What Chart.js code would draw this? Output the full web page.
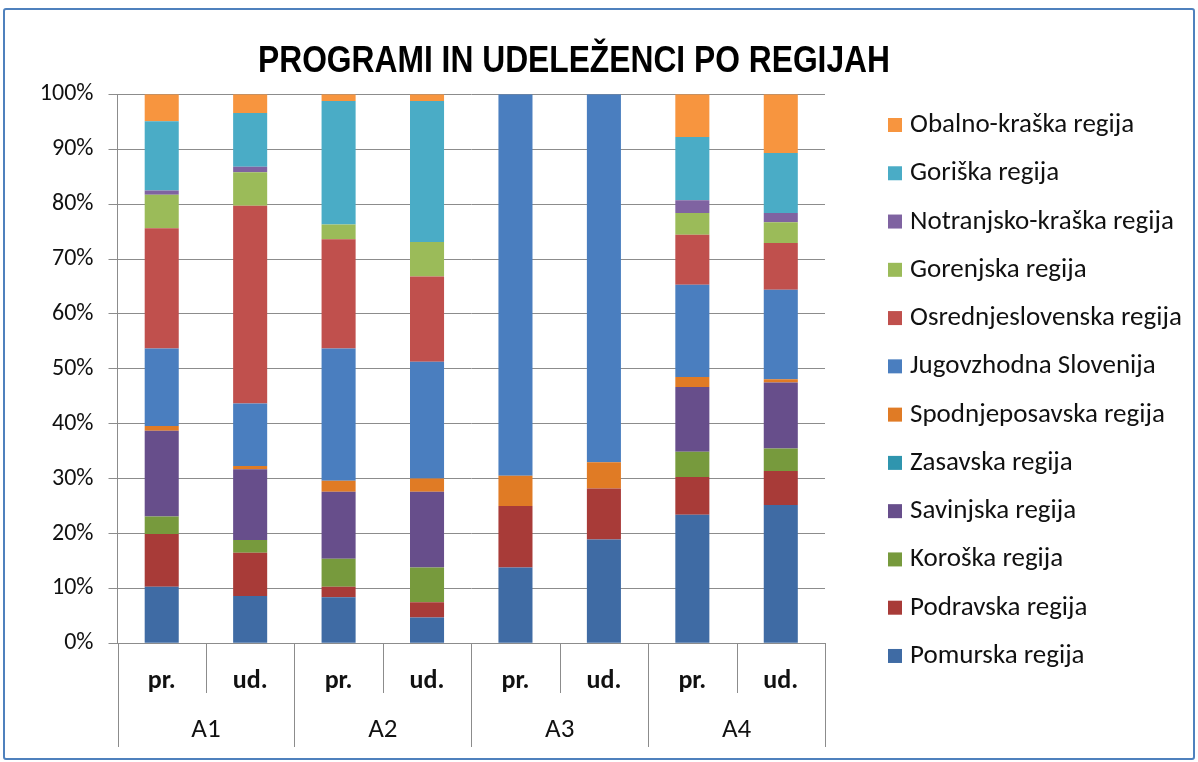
<!DOCTYPE html>
<html><head><meta charset="utf-8">
<script src="https://cdn.jsdelivr.net/npm/chart.js@4.4.1/dist/chart.umd.min.js"></script>
<style>
html,body{margin:0;padding:0;background:#fff;}
#wrap{position:relative;width:1198px;height:762px;overflow:hidden;}
#frame{position:absolute;left:3px;top:8px;width:1188px;height:748px;border:2px solid #4f81bd;border-radius:3px;pointer-events:none;}
#c{position:absolute;left:0;top:0;}
</style></head><body>
<div id="wrap"><canvas id="c" width="1198" height="762"></canvas><div id="frame"></div></div>
<script>
// ---- data ----
const categories = ['pr.', 'ud.', 'pr.', 'ud.', 'pr.', 'ud.', 'pr.', 'ud.'];
const groups = ['A1', 'A2', 'A3', 'A4'];
const yTicks = [0, 10, 20, 30, 40, 50, 60, 70, 80, 90, 100];
const regions = ['Pomurska regija', 'Podravska regija', 'Koroška regija', 'Savinjska regija', 'Zasavska regija',
  'Spodnjeposavska regija', 'Jugovzhodna Slovenija', 'Osrednjeslovenska regija', 'Gorenjska regija',
  'Notranjsko-kraška regija', 'Goriška regija', 'Obalno-kraška regija'];
const pomurska          = [10.3, 8.6, 8.4, 4.7, 13.8, 18.9, 23.4, 25.2];
const podravska         = [9.6, 7.9, 1.9, 2.8, 11.2, 9.3, 6.9, 6.2];
const koroska           = [3.2, 2.3, 5.1, 6.3, 0, 0, 4.6, 4.1];
const savinjska         = [15.6, 12.9, 12.2, 13.8, 0, 0, 11.8, 12.0];
const zasavska          = [0, 0, 0, 0, 0, 0, 0, 0];
const spodnjeposavska   = [0.9, 0.6, 2.0, 2.4, 5.5, 4.8, 1.8, 0.6];
const jugovzhodna       = [14.1, 11.4, 24.1, 21.3, 69.5, 67.0, 16.8, 16.3];
const osrednjeslovenska = [21.9, 36.0, 19.9, 15.5, 0, 0, 9.1, 8.5];
const gorenjska         = [6.1, 6.1, 2.7, 6.3, 0, 0, 4.0, 3.8];
const notranjsko        = [0.8, 1.0, 0, 0, 0, 0, 2.3, 1.7];
const goriska           = [12.6, 9.8, 22.5, 25.7, 0, 0, 11.5, 10.9];
const obalno            = [4.9, 3.4, 1.2, 1.2, 0, 0, 7.8, 10.7];
const seriesValues = [pomurska, podravska, koroska, savinjska, zasavska, spodnjeposavska,
  jugovzhodna, osrednjeslovenska, gorenjska, notranjsko, goriska, obalno];
const colors = ['#3f6ba4', '#a83b38', '#779a3d', '#674e8b', '#2f95ae', '#e07b25',
  '#4a7ebf', '#c0504d', '#9bbb59', '#7f63a1', '#4aacc6', '#f7953f'];
const title = 'PROGRAMI IN UDELEŽENCI PO REGIJAH';

const TXT = '#111';
const GRID = '#8c8c8c';
const LBL_FONT = 'Carlito';

const extras = {
  id: 'extras',
  afterDraw(chart) {
    const ctx = chart.ctx, xs = chart.scales.x, ys = chart.scales.y;
    ctx.save();
    // title (condensed bold)
    ctx.save();
    ctx.fillStyle = '#000';
    ctx.font = 'bold 37.5px "Liberation Sans", Arial, sans-serif';
    ctx.textAlign = 'center'; ctx.textBaseline = 'alphabetic';
    const tw = ctx.measureText(title).width;
    const sx = 632 / tw;
    ctx.translate(574, 72); ctx.scale(sx, 1);
    ctx.fillText(title, 0, 0);
    ctx.restore();
    // category separators
    const n = categories.length, catW = (xs.right - xs.left) / n, y0 = ys.bottom;
    ctx.strokeStyle = GRID; ctx.lineWidth = 1;
    for (let i = 0; i <= n; i++) {
      const x = Math.round(xs.left + i * catW) + 0.5;
      ctx.beginPath(); ctx.moveTo(x, y0); ctx.lineTo(x, i % 2 === 0 ? 747 : 693); ctx.stroke();
    }
    // group labels
    ctx.fillStyle = TXT; ctx.font = '27px "' + LBL_FONT + '", sans-serif';
    ctx.textAlign = 'center'; ctx.textBaseline = 'alphabetic';
    groups.forEach((g, gi) => {
      const cx = (xs.getPixelForValue(gi * 2) + xs.getPixelForValue(gi * 2 + 1)) / 2;
      ctx.fillText(g, cx, 737);
    });
    // legend (reverse order, top = last series)
    ctx.font = '27px "' + LBL_FONT + '", sans-serif'; ctx.textAlign = 'left';
    const ds = chart.data.datasets;
    for (let k = 0; k < ds.length; k++) {
      const d = ds[ds.length - 1 - k];
      const base = 132 + k * 48.27;
      ctx.fillStyle = d.backgroundColor;
      ctx.fillRect(888, base - 14, 14, 14);
      ctx.fillStyle = TXT;
      ctx.fillText(d.label, 910, base);
    }
    ctx.restore();
  }
};

new Chart(document.getElementById('c'), {
  type: 'bar',
  data: {
    labels: categories,
    datasets: regions.map((r, i) => ({ label: r, data: seriesValues[i], backgroundColor: colors[i], borderWidth: 0,
      barPercentage: 0.385, categoryPercentage: 1 }))
  },
  options: {
    responsive: false, animation: false, devicePixelRatio: 1,
    layout: { padding: { top: 94.3, right: 373, left: 0, bottom: 0 } },
    plugins: { legend: { display: false }, title: { display: false }, tooltip: { enabled: false } },
    scales: {
      x: {
        stacked: true,
        grid: { display: false },
        border: { display: true, color: GRID, width: 1 },
        ticks: { color: TXT, font: { family: LBL_FONT, size: 26, weight: 'bold' }, padding: 15, maxRotation: 0, autoSkip: false },
        afterFit(s) { s.height = 762 - 643.3; }
      },
      y: {
        stacked: true, min: 0, max: 100,
        afterBuildTicks(s) { s.ticks = yTicks.map(v => ({ value: v })); },
        ticks: { color: TXT, font: { family: LBL_FONT, size: 24 }, padding: 15, callback: v => v + '%' },
        grid: { color: GRID, tickLength: 9, drawTicks: true },
        border: { color: GRID, width: 1 },
        afterFit(s) { s.width = 117.5; }
      }
    }
  },
  plugins: [extras]
});
</script>
</body></html>
